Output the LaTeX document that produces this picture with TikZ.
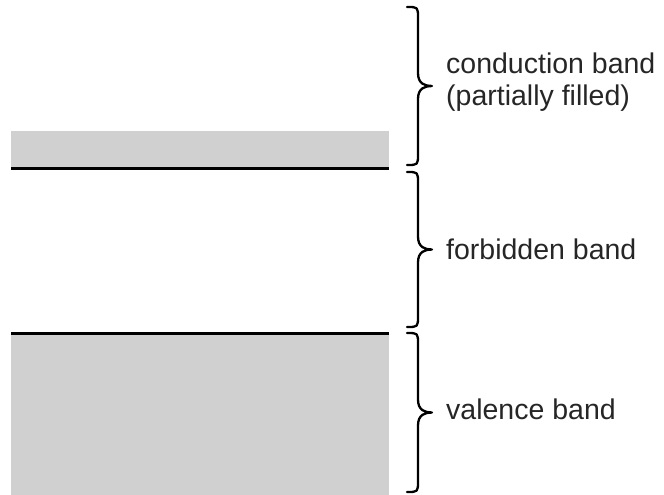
\documentclass[tikz,border=0pt]{standalone}
\usepackage{fontspec}
\setmainfont{Liberation Sans}
\definecolor{bandgray}{RGB}{208,208,208}
\definecolor{labeltext}{RGB}{38,38,38}
\begin{document}
\begin{tikzpicture}[x=1pt,y=-1pt,
  bandline/.style={line width=2.8pt},
  bracestyle/.style={line width=2.3pt, line cap=round, line join=round},
  bandlabel/.style={anchor=base west, inner sep=0pt, text=labeltext,
    font=\fontsize{28.5}{32}\selectfont}]
\useasboundingbox (0,0) rectangle (664,495);
% bands
\fill[bandgray] (11,131) rectangle (389,168.3);
\fill[bandgray] (11,333.5) rectangle (389,495);
\coordinate (l1a) at (11,168.3);
\coordinate (l1b) at (389,168.3);
\coordinate (l2a) at (11,333.5);
\coordinate (l2b) at (389,333.5);
\draw[bandline] (l1a) -- (l1b);
\draw[bandline] (l2a) -- (l2b);
% braces
\draw[bracestyle] (407,7) .. controls (418,7) .. (418,18) -- (418,73)
  .. controls (418,84) and (425,86) .. (432,86) .. controls (425,86) and (418,88) .. (418,99)
  -- (418,154) .. controls (418,165) .. (407,165);
\draw[bracestyle] (407,172) .. controls (418,172) .. (418,183) -- (418,236.5)
  .. controls (418,247.5) and (425,249.5) .. (432,249.5) .. controls (425,249.5) and (418,251.5) .. (418,262.5)
  -- (418,316) .. controls (418,327) .. (407,327);
\draw[bracestyle] (407,333) .. controls (418,333) .. (418,344) -- (418,399.5)
  .. controls (418,410.5) and (425,412.5) .. (432,412.5) .. controls (425,412.5) and (418,414.5) .. (418,425.5)
  -- (418,481) .. controls (418,492) .. (407,492);
% labels
\node[bandlabel] (cond) at (446,73.5) {conduction band};
\node[bandlabel] (part) at (446,105) {(partially filled)};
\node[bandlabel] (forb) at (446,259) {forbidden band};
\node[bandlabel] (val) at (446,419.3) {valence band};
\end{tikzpicture}
\end{document}
